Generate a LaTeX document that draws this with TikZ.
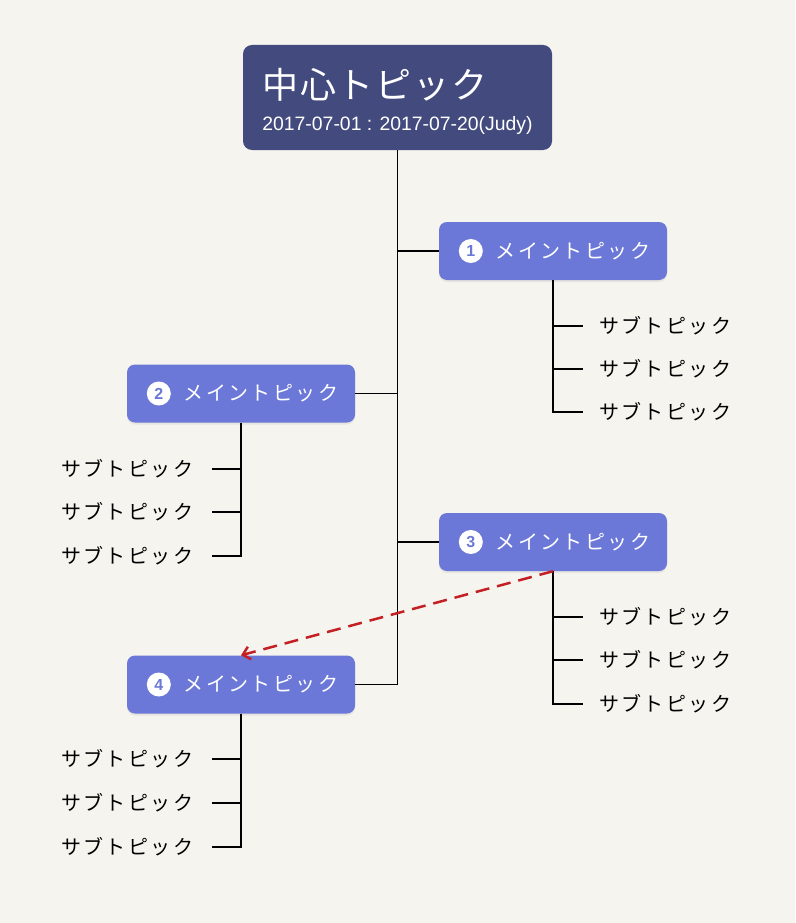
\documentclass[tikz,border=0pt]{standalone}
\usepackage{fontspec}
\setmainfont{Liberation Sans}
\newfontfamily\jptitle[LetterSpace=5]{Noto Sans CJK JP}
\newfontfamily\jpwide[LetterSpace=12]{Noto Sans CJK JP}
\usetikzlibrary{positioning, arrows.meta, shadows}

\definecolor{bgcol}{RGB}{245,244,238}
\definecolor{rootcol}{RGB}{66,74,126}
\definecolor{maincol}{RGB}{107,120,216}
\definecolor{linkcol}{RGB}{196,32,36}

\begin{document}
\begin{tikzpicture}[
  x=1pt, y=-1pt,
  root/.style={fill=rootcol, rounded corners=9pt, minimum width=309pt, minimum height=105pt, text=white, align=left, inner sep=0pt},
  topic/.style={fill=maincol, rounded corners=8pt, minimum width=228pt, minimum height=58pt, text=white, inner sep=0pt,
    font=\jpwide\fontsize{20}{23}\selectfont, drop shadow={shadow xshift=0pt, shadow yshift=-2pt, opacity=0.12}},
  badge/.style={circle, fill=white, text=maincol, minimum size=24pt, inner sep=0pt, font=\bfseries\fontsize{16}{16}\selectfont},
  sub/.style={inner sep=0pt, font=\jpwide\fontsize{20}{23}\selectfont},
  edge/.style={line width=1.5pt},
  link/.style={-{Straight Barb[length=7pt, width=13pt]}, linkcol, line width=2.5pt, dash pattern=on 14pt off 8pt}
]

\fill[bgcol] (0,0) rectangle (795,923);
\useasboundingbox (0,0) rectangle (795,923);

% --- Root ---
\node[root] (root) at (397.5,97.5) {{\jptitle\fontsize{36}{42}\selectfont\rule{0pt}{38pt}中心トピック}\\[14pt]
  {\fontsize{19.4}{22}\selectfont 2017-07-01 : 2017-07-20(Judy)}};

% --- Main topics ---
\node[topic] (m1) at (553,251) {\hspace{40pt}メイントピック};
\node[topic] (m2) at (241,393.5) {\hspace{40pt}メイントピック};
\node[topic] (m3) at (553,542) {\hspace{40pt}メイントピック};
\node[topic] (m4) at (241,684.5) {\hspace{40pt}メイントピック};

\node[badge] (b1) at ([xshift=32pt]m1.west) {1};
\node[badge] (b2) at ([xshift=32pt]m2.west) {2};
\node[badge] (b3) at ([xshift=32pt]m3.west) {3};
\node[badge] (b4) at ([xshift=32pt]m4.west) {4};

% --- Trunk ---
\draw[edge] (root.south) |- (m1.west);
\draw[edge] (root.south) |- (m2.east);
\draw[edge] (root.south) |- (m3.west);
\draw[edge] (root.south) |- (m4.east);

% --- Sub topics ---
\foreach \i/\y in {1/326, 2/369, 3/412} {
  \node[sub, anchor=west] (s1\i) at (599,\y) {サブトピック};
  \draw[edge] (m1.south) |- ([xshift=-16pt]s1\i.west);
}
\foreach \i/\y in {1/469, 2/512, 3/556} {
  \node[sub, anchor=west] (s2\i) at (61,\y) {サブトピック};
  \draw[edge] (m2.south) |- ([xshift=19pt]s2\i.east);
}
\foreach \i/\y in {1/617, 2/660, 3/704} {
  \node[sub, anchor=west] (s3\i) at (599,\y) {サブトピック};
  \draw[edge] (m3.south) |- ([xshift=-16pt]s3\i.west);
}
\foreach \i/\y in {1/759, 2/803, 3/847} {
  \node[sub, anchor=west] (s4\i) at (61,\y) {サブトピック};
  \draw[edge] (m4.south) |- ([xshift=19pt]s4\i.east);
}

% --- Link ---
\draw[link] (m3.south) -- (m4.north);

\end{tikzpicture}
\end{document}
